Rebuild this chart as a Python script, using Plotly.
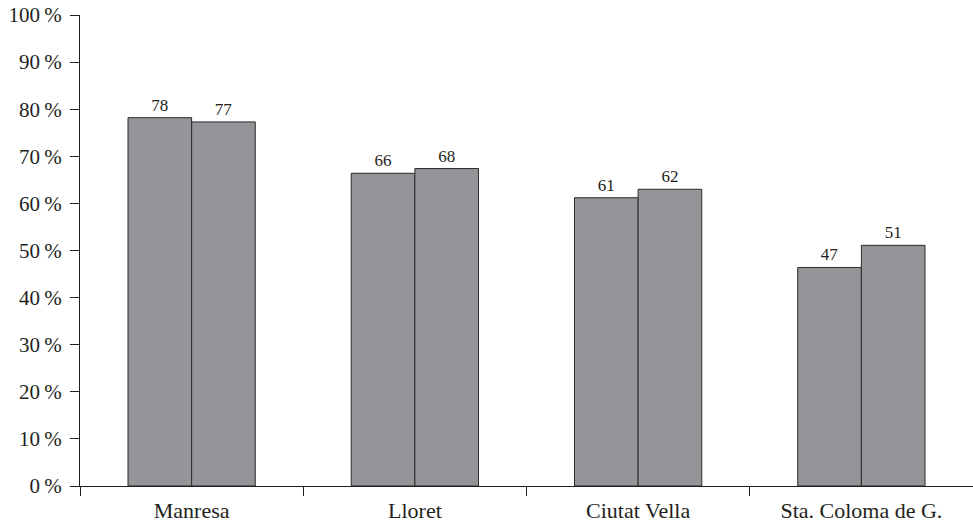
import plotly.graph_objects as go

categories = ["Manresa", "Lloret", "Ciutat Vella", "Sta. Coloma de G."]
series_a = [78.2, 66.4, 61.2, 46.4]
series_b = [77.3, 67.4, 63.0, 51.1]
labels_a = ["78", "66", "61", "47"]
labels_b = ["77", "68", "62", "51"]
y_ticks = [0, 10, 20, 30, 40, 50, 60, 70, 80, 90, 100]
y_ticktext = [f"{v}\u2009%" for v in y_ticks]

FONT = "Liberation Serif"
fill = "#939598"
edge = "#2b2b2b"

fig = go.Figure()
for vals, labs in [(series_a, labels_a), (series_b, labels_b)]:
    fig.add_trace(go.Bar(
        x=categories, y=vals, text=labs, textposition="outside",
        textfont=dict(family=FONT, size=17, color="#231f20"),
        marker=dict(color=fill, line=dict(color=edge, width=1)),
        cliponaxis=False, showlegend=False,
    ))

fig.update_layout(
    width=973, height=523,
    margin=dict(l=80, r=0, t=15, b=37),
    paper_bgcolor="white", plot_bgcolor="white",
    barmode="group", bargap=0.43, bargroupgap=0,
    font=dict(family=FONT, size=21, color="#231f20"),
)
fig.update_xaxes(
    automargin=False,
    showline=True, linecolor="#231f20", linewidth=1,
    ticks="outside", tickson="boundaries", ticklen=9, tickcolor="#231f20",
    showgrid=False, tickfont=dict(family=FONT, size=22),
    ticklabelstandoff=5,
)
fig.update_yaxes(
    automargin=False,
    range=[0, 100], tickvals=y_ticks, ticktext=y_ticktext,
    showline=True, linecolor="#231f20", linewidth=1,
    ticks="outside", ticklen=9, tickcolor="#231f20",
    showgrid=False, zeroline=False, tickfont=dict(family=FONT, size=21),
    ticklabelstandoff=4,
)
fig.write_html(
    "out.html",
    config={"displayModeBar": False},
    post_script="document.body.style.margin='0';document.body.style.overflow='hidden';",
)
